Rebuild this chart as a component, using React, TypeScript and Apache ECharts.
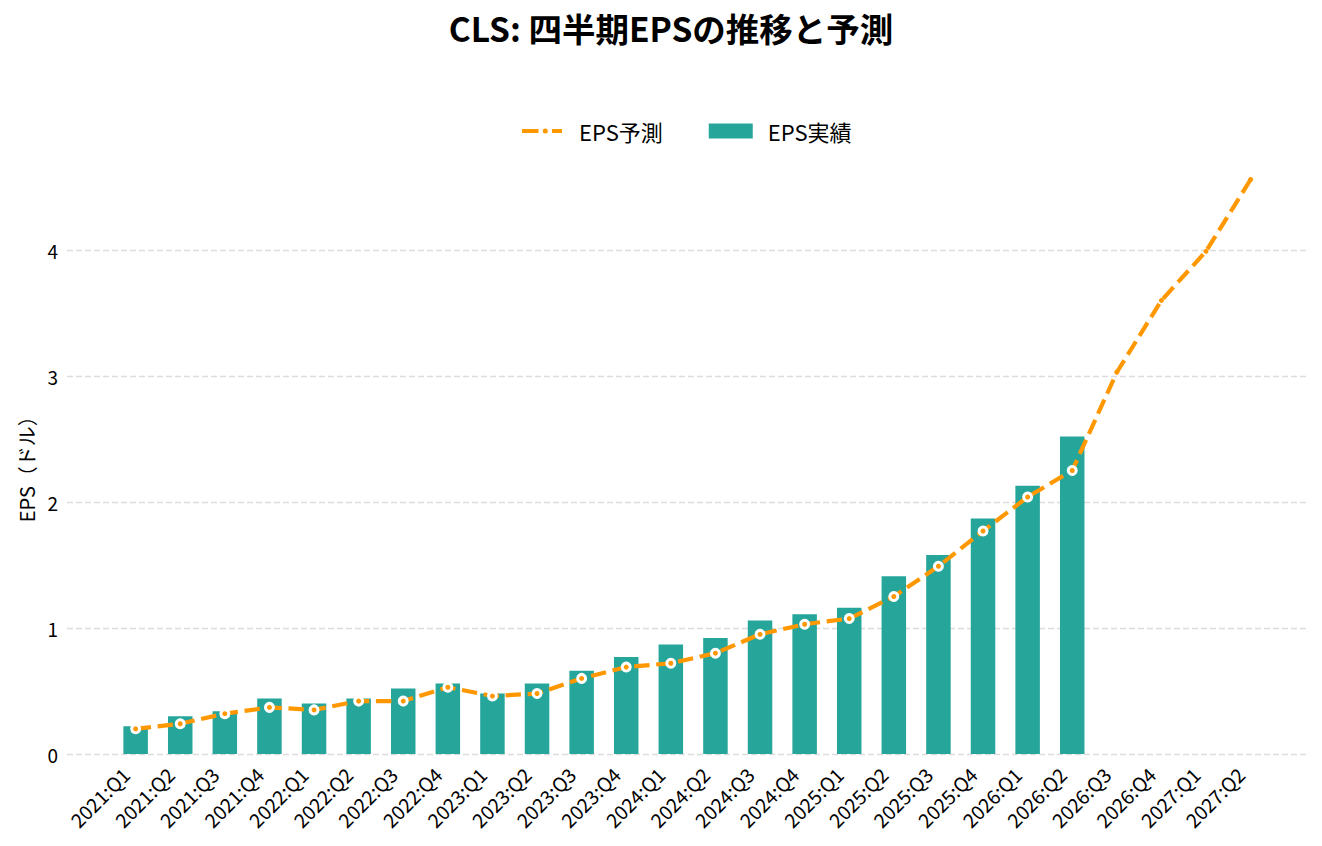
import React, { useEffect, useRef } from "react";
import * as echarts from "echarts";

const quarters = [
  "2021:Q1", "2021:Q2", "2021:Q3", "2021:Q4",
  "2022:Q1", "2022:Q2", "2022:Q3", "2022:Q4",
  "2023:Q1", "2023:Q2", "2023:Q3", "2023:Q4",
  "2024:Q1", "2024:Q2", "2024:Q3", "2024:Q4",
  "2025:Q1", "2025:Q2", "2025:Q3", "2025:Q4",
  "2026:Q1", "2026:Q2", "2026:Q3", "2026:Q4",
  "2027:Q1", "2027:Q2",
];

// reported EPS (bars) up to 2026:Q2
const actualEps = [
  0.22, 0.30, 0.34, 0.44, 0.40, 0.44, 0.52, 0.56, 0.48, 0.56, 0.66,
  0.77, 0.87, 0.92, 1.06, 1.11, 1.16, 1.41, 1.58, 1.87, 2.13, 2.52,
];

// consensus estimate (dashed line)
const estimateEps = [
  0.20, 0.24, 0.32, 0.37, 0.35, 0.42, 0.42, 0.53, 0.46, 0.48, 0.60,
  0.69, 0.72, 0.80, 0.95, 1.03, 1.075, 1.25, 1.49, 1.77, 2.04, 2.25,
  3.03, 3.60, 3.99, 4.56,
];

const yTicks = [0, 1, 2, 3, 4];

const ORANGE = "#ff9800";
const TEAL = "#26a69a";
const FONT = "'Noto Sans CJK JP', 'Noto Sans', sans-serif";

// legend icon: dash, dot, dash
const lineIcon =
  "path://M0,0M44,15M2,5.5h16.5v4h-16.5zM22.8,7.5a2.5,2.5 0 1,0 5,0a2.5,2.5 0 1,0 -5,0zM32,5.5h10v4h-10z";

export default function App() {
  const chartRef = useRef<HTMLDivElement>(null);

  useEffect(() => {
    if (!chartRef.current) return;
    const chart = echarts.init(chartRef.current, null, { renderer: "svg" });

    const idx = quarters.map((_, i) => i);

    chart.setOption({
      animation: false,
      backgroundColor: "#ffffff",
      textStyle: { fontFamily: FONT },
      title: {
        text: "CLS: 四半期EPSの推移と予測",
        left: 666,
        textAlign: "center",
        top: 6,
        textStyle: { fontFamily: FONT, fontSize: 33.5, fontWeight: "bold", color: "#000" },
      },
      legend: {
        data: [
          { name: "EPS予測", icon: lineIcon, itemStyle: { color: ORANGE, borderWidth: 0 } },
          { name: "EPS実績", icon: "rect" },
        ],
        left: 515,
        top: 115,
        itemWidth: 44,
        itemHeight: 15,
        itemGap: 46,
        symbolKeepAspect: true,
        textStyle: { fontFamily: FONT, fontSize: 22, color: "#000", padding: [0, 0, 0, 10] },
      },
      grid: { left: 67, right: 15, top: 150.5, bottom: 92 },
      xAxis: {
        type: "value",
        min: -1.539,
        max: 26.264,
        axisLine: { show: false },
        axisTick: { show: false },
        splitLine: { show: false },
        axisLabel: {
          customValues: idx,
          rotate: 45,
          margin: 7,
          padding: [0, 14, 0, 0],
          fontFamily: FONT,
          fontSize: 19.5,
          color: "#000",
          formatter: (v: number) => quarters[Math.round(v)] ?? "",
        },
      },
      yAxis: {
        type: "value",
        min: 0,
        max: 4.79,
        interval: 1,
        name: "EPS（ドル）",
        nameLocation: "middle",
        nameGap: 30,
        nameTextStyle: { fontFamily: FONT, fontSize: 20, color: "#000", padding: [0, 24, 0, 0] },
        axisLine: { show: false },
        axisTick: { show: false },
        axisLabel: {
          customValues: yTicks,
          margin: 9,
          fontFamily: FONT,
          fontSize: 19,
          color: "#000",
        },
        splitLine: {
          show: true,
          showMaxLine: false,
          lineStyle: { color: "#dcdcdc", width: 1.4, type: [6, 3] },
        },
      },
      series: [
        {
          name: "EPS実績",
          type: "bar",
          barWidth: 24.5,
          itemStyle: { color: TEAL },
          data: actualEps.map((v, i) => [i, v]),
          z: 1,
        },
        {
          name: "EPS予測",
          type: "line",
          symbol: "circle",
          symbolSize: 5,
          showAllSymbol: true,
          itemStyle: { color: ORANGE },
          lineStyle: { color: ORANGE, width: 4.2, type: [15.4, 6.7] },
          data: estimateEps.map((v, i) => [i, v]),
          z: 3,
        },
        {
          name: "actualMarkers",
          type: "scatter",
          symbol: "circle",
          symbolSize: 8,
          itemStyle: { color: ORANGE, borderColor: "#ffffff", borderWidth: 3, opacity: 1 },
          data: actualEps.map((_, i) => [i, estimateEps[i]]),
          z: 4,
        },
      ],
    });

    return () => chart.dispose();
  }, []);

  return (
    <div
      ref={chartRef}
      style={{ position: "fixed", left: 0, top: 0, width: 1322, height: 846 }}
    />
  );
}
